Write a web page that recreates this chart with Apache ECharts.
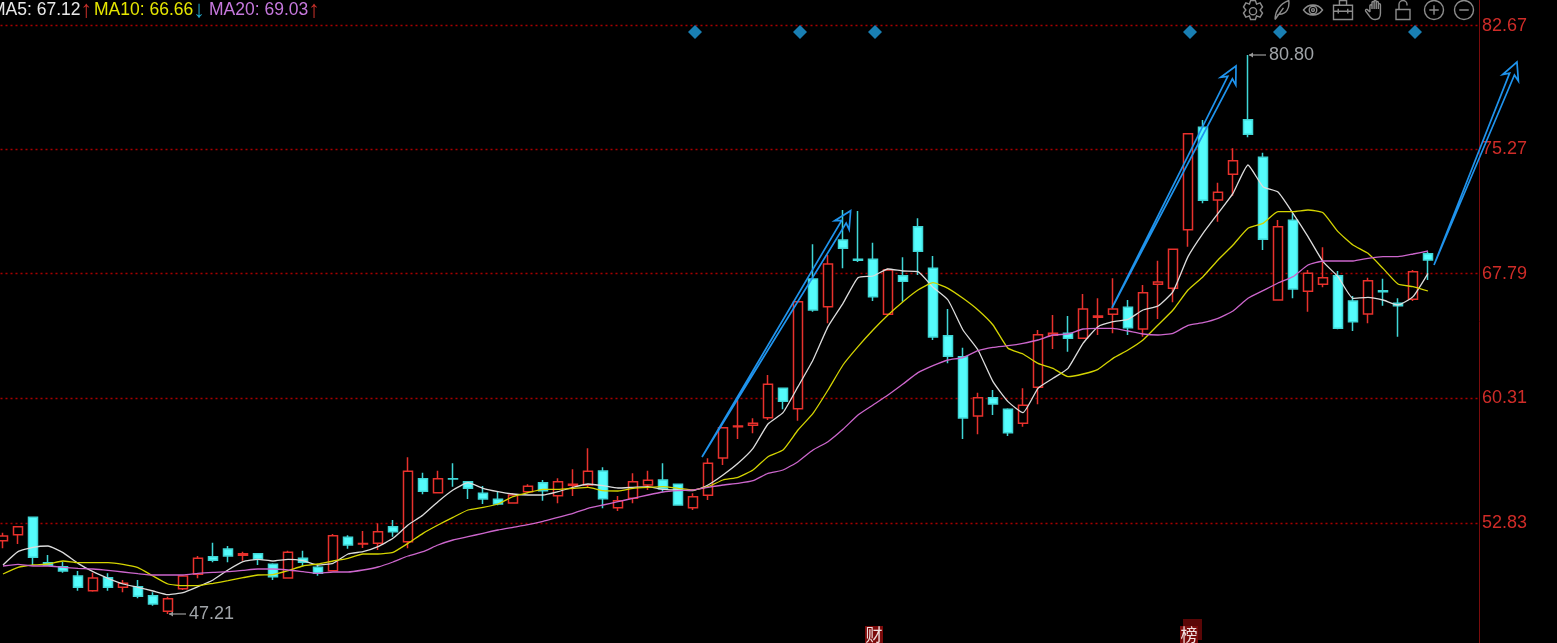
<!DOCTYPE html>
<html>
<head>
<meta charset="utf-8">
<style>html,body{margin:0;padding:0;background:#000;overflow:hidden}#c{width:1557px;height:643px}</style>
<script src="https://cdn.jsdelivr.net/npm/echarts@6/dist/echarts.min.js"></script>
</head>
<body>
<div id="c"></div>
<script>
const opens=[51.77,52.13,53.17,50.45,50.21,49.65,48.77,49.55,48.97,49.01,48.47,47.53,48.89,49.75,50.81,51.27,50.89,50.99,50.35,49.53,50.71,50.17,49.97,51.97,
51.57,51.61,52.61,51.71,55.49,54.65,55.49,55.31,54.61,54.25,54.03,54.71,55.25,54.47,55.09,55.11,55.95,53.75,54.31,55.11,55.41,55.15,53.75,
54.49,56.73,58.61,58.69,59.15,60.91,59.69,67.47,65.81,69.81,68.65,68.65,65.35,67.67,70.61,68.11,64.07,62.81,59.25,60.35,59.65,58.81,
60.97,64.09,64.21,63.91,65.17,65.35,65.77,64.47,67.15,66.91,70.43,76.57,72.21,73.75,77.03,74.77,66.21,
70.99,66.73,67.15,67.67,66.15,65.37,66.77,66.01,66.25,68.99];
const closes=[52.05,52.61,50.77,50.29,49.95,48.97,49.53,48.97,49.21,48.43,47.97,48.29,49.65,50.71,50.59,50.85,50.99,50.67,49.61,51.07,50.47,49.81,52.07,51.51,
51.60,52.31,52.31,55.93,54.73,55.49,55.47,54.91,54.27,53.97,54.51,55.03,54.77,55.31,55.15,55.93,54.29,54.17,55.31,55.39,54.89,53.91,54.41,
56.41,58.55,58.65,58.81,61.15,60.13,66.11,65.61,68.37,69.31,68.59,66.41,68.01,67.33,69.13,63.99,62.83,59.13,60.35,59.97,58.25,59.89,
64.13,64.21,63.91,65.67,65.25,65.67,64.55,66.65,67.29,69.25,76.19,72.19,72.67,74.57,76.15,69.85,70.61,
66.87,67.81,67.55,64.51,64.91,67.37,66.71,65.87,67.91,68.61];
const lows=[51.31,51.57,50.31,50.25,49.85,48.77,48.71,48.77,48.67,48.31,47.87,47.37,48.81,49.51,50.47,50.47,50.57,50.31,49.41,49.51,50.25,49.67,49.95,51.29,
51.33,51.21,52.01,51.31,54.55,54.65,55.01,54.27,53.97,53.89,54.03,54.61,54.17,54.01,54.45,54.97,53.71,53.55,54.01,54.81,54.71,53.91,53.61,
54.21,56.31,57.87,58.21,59.01,59.65,58.97,65.51,64.81,68.11,68.49,66.15,65.31,66.11,67.71,63.81,62.41,57.87,58.15,59.31,58.05,58.61,
59.95,63.27,63.11,63.91,64.11,64.21,64.11,64.01,65.07,66.07,69.41,72.01,70.91,72.47,75.97,69.21,66.21,
66.31,65.51,66.97,64.45,64.35,64.81,65.87,64.01,66.15,67.41];
const highs=[52.25,52.61,53.17,50.91,50.51,49.95,49.85,49.81,49.41,49.41,48.67,48.41,49.67,50.85,51.65,51.45,51.11,51.01,50.41,51.17,51.17,50.31,52.17,52.09,
52.35,52.81,53.01,56.77,55.85,55.97,56.41,55.31,55.05,54.71,54.61,55.15,55.41,55.51,56.05,57.31,56.17,54.45,55.81,55.97,56.41,55.15,54.61,
56.71,58.57,60.21,59.11,61.71,60.91,66.11,69.55,68.91,71.61,71.55,69.65,68.11,68.77,71.11,68.85,65.67,63.35,60.65,60.81,59.71,60.91,
64.41,65.31,65.25,66.57,66.31,67.51,66.21,67.11,68.57,69.25,76.21,77.01,73.25,75.31,80.91,75.05,71.01,
71.41,68.01,69.37,67.95,66.45,67.55,67.49,66.31,68.01,69.11];
const ma5=[50.31,51.11,51.37,51.45,51.05,50.41,49.91,49.51,49.17,48.97,48.75,48.53,48.65,49.01,49.41,50.01,50.51,50.65,50.55,50.65,50.57,50.31,50.41,50.97,
51.11,51.41,51.91,52.71,53.31,54.11,54.81,55.25,54.91,54.71,54.57,54.51,54.51,54.71,54.97,55.17,55.07,54.93,54.97,55.01,54.85,54.81,54.77,
55.11,55.71,56.41,57.31,58.77,59.45,61.01,62.61,64.61,66.01,67.55,67.65,68.07,67.95,67.91,66.97,66.21,64.41,63.21,61.31,60.11,59.45,
60.91,61.51,62.11,63.61,64.61,64.91,65.05,65.61,65.85,66.71,68.81,70.21,71.41,72.61,74.31,73.01,72.69,
71.41,70.01,68.51,67.61,66.31,66.37,66.21,65.91,66.41,67.81];
const ma10=[49.77,50.17,50.31,50.37,50.55,50.45,50.45,50.45,50.35,50.15,49.65,49.17,49.07,49.07,49.21,49.37,49.55,49.71,49.73,49.97,50.25,50.37,50.55,50.71,
50.97,50.97,51.07,51.61,52.21,52.71,53.17,53.61,53.77,53.97,54.41,54.65,54.85,54.85,54.91,54.97,54.77,54.75,54.91,54.97,55.01,54.91,54.81,
55.01,55.41,55.57,56.01,56.81,57.21,58.41,59.41,60.81,62.31,63.41,64.41,65.31,66.11,66.81,67.25,66.91,66.31,65.61,64.71,63.31,62.97,
62.41,62.11,61.61,61.77,62.05,62.71,63.21,63.81,64.71,65.61,66.81,67.61,68.61,69.51,70.51,70.81,71.51,
71.51,71.61,71.45,70.31,69.51,69.01,68.11,67.17,67.01,66.75];
const ma20=[50.25,50.35,50.25,50.25,50.17,50.11,50.07,49.99,49.89,49.79,49.71,49.71,49.71,49.81,49.87,49.91,49.99,50.07,50.07,50.01,49.91,49.81,49.89,49.89,
50.01,50.19,50.49,50.85,51.11,51.51,51.81,52.01,52.21,52.41,52.57,52.73,52.93,53.17,53.41,53.71,53.91,54.11,54.31,54.51,54.69,54.77,54.81,
54.97,55.11,55.21,55.37,55.81,56.01,56.51,57.21,57.71,58.45,59.31,59.91,60.51,61.17,61.85,62.27,62.61,62.75,63.17,63.37,63.47,63.61,
63.81,64.11,64.17,64.47,64.51,64.51,64.35,64.17,64.11,64.21,64.69,64.85,65.11,65.55,66.31,66.77,67.23,
67.61,68.31,68.55,68.55,68.55,68.71,68.81,68.81,68.97,69.15];
const tickValues=[52.83,60.31,67.79,75.27,82.67];
const diamondIdx=[46,53,58,79,85,94];
const diamondLevel=82.29;
const extremeIdx=[11,83];
const extremeVals=[47.37,80.91];
const extremeText=['47.21','80.80'];
const eventIdx=[58,79];
const eventChars=['财','榜'];
const eventLevel=46.11;
const arrowFromX=[46.6,73.93,95.4];
const arrowFromY=[56.79,65.73,68.31];
const arrowToX=[56.51,82.2,100.93];
const arrowToY=[71.57,80.25,80.49];
const maLabels=[
  ['MA5: 67.12','#e8e8e8','↑','#c8302a'],
  ['MA10: 66.66','#e6e600','↓','#21a6c8'],
  ['MA20: 69.03','#c678dd','↑','#c8302a']];
const maLabelX=[-9,94,209];
const categories=opens.map((_,i)=>String(i)).concat(['96','97','98']);

const iconPaths=[
 'M8 1h4l1 3 3-1 2 3.5-2 2.5 2 2.5-2 3.5-3-1-1 3H8l-1-3-3 1-2-3.5 2-2.5-2-2.5 2-3.5 3 1z M13 10a3 3 0 1 1-6 0a3 3 0 1 1 6 0z',
 'M4 19C4 12 8 4 17 1c1 7-2 13-9 13l-2 1 M4 19L12 8',
 'M0 10C5 3 15 3 20 10C15 17 5 17 0 10z M14 10a4 4 0 1 1-8 0a4 4 0 1 1 8 0z M11.5 10a1.5 1.5 0 1 1-3 0a1.5 1.5 0 1 1 3 0z',
 'M2 6h16v12H2z M7 6V2h6v4 M2 11h16 M6 9v4 M14 9v4',
 'M5 12V6a1 1 0 0 1 2 0v3 M7 8V3a1 1 0 0 1 2 0v6 M9 8V2a1 1 0 0 1 2 0v7 M11 8V3a1 1 0 0 1 2 0v6 M13 9V5a1 1 0 0 1 2 0v8c0 4-2 6-5 6s-4-1-6-4l-3-4a1 1 0 0 1 2-1l2 2',
 'M3 9h14v10H3z M6 9V4a4 4 0 0 1 8 0v1',
 'M20 10a10 10 0 1 1-20 0a10 10 0 1 1 20 0z M10 5v10 M5 10h10',
 'M20 10a10 10 0 1 1-20 0a10 10 0 1 1 20 0z M5 10h10'];
const iconCenters=[1253,1282,1313,1343,1373,1403,1434,1464];

const font='17.5px "Liberation Sans", Arial, sans-serif';
const arrowFont='bold 24px "Liberation Sans", "DejaVu Sans", sans-serif';
const graphics=[];
maLabels.forEach((m,i)=>{
  graphics.push({type:'text',x:maLabelX[i],y:-2,z:50,silent:true,style:{
    text:'{a|'+m[0]+'}{b|'+m[2]+'}',font:font,
    rich:{a:{fill:m[1],font:font},b:{fill:m[3],font:arrowFont}}}});
});

const candleData=opens.map((o,i)=>[o,closes[i],lows[i],highs[i]]);
const lineS=(name,data,color)=>({type:'line',name,data,symbol:'none',smooth:0.15,z:5,
  lineStyle:{color,width:1.3},silent:true});

const option={
  animation:false,backgroundColor:'#000',
  grid:{left:-4.5,top:0,width:1485,height:643,outerBoundsMode:'none',containLabel:false},
  graphic:graphics,
  xAxis:[
    {type:'category',data:categories,boundaryGap:true,show:false},
    {type:'value',min:-0.5,max:98.5,show:false}
  ],
  yAxis:{type:'value',position:'right',offset:-1.5,min:45.63,max:84.21,scale:true,
    axisLine:{show:true,onZero:false,lineStyle:{color:'#7a0c0c',width:1}},
    axisTick:{show:false,customValues:tickValues},
    axisLabel:{show:true,margin:3,color:'#cf2c28',fontSize:18,fontFamily:'"Liberation Sans", Arial, sans-serif',
      customValues:tickValues,formatter:v=>v.toFixed(2),showMinLabel:true,showMaxLabel:true},
    splitLine:{show:true,lineStyle:{color:'#a80000',width:1.4,type:[2,3]}}
  },
  series:[
    {type:'candlestick',data:candleData,barWidth:10,z:3,silent:true,
      itemStyle:{color:'#000',color0:'#54fcfc',borderColor:'#e8312c',borderColor0:'#3fd6d6',borderWidth:1.5}},
    lineS('MA5',ma5,'#dcdcdc'),
    lineS('MA10',ma10,'#d4d400'),
    lineS('MA20',ma20,'#cc66cc'),
    {type:'scatter',data:diamondIdx.map(i=>[String(i),diamondLevel]),symbol:'diamond',symbolSize:14,symbolOffset:[2,0],
      itemStyle:{color:'#1f9fe0'},z:6,silent:true},
    {type:'custom',xAxisIndex:1,z:8,silent:true,clip:false,
      data:arrowFromX.map((x,i)=>[x,arrowFromY[i],arrowToX[i],arrowToY[i]]),
      renderItem(params,api){
        const a=api.coord([api.value(0),api.value(1)]),b=api.coord([api.value(2),api.value(3)]);
        const dx=b[0]-a[0],dy=b[1]-a[1],L=Math.hypot(dx,dy),ux=dx/L,uy=dy/L,nx=-uy,ny=ux;
        const P=(al,pe)=>[b[0]+ux*al+nx*pe,b[1]+uy*al+ny*pe];
        return {type:'polygon',shape:{points:[a,P(-13,-2.6),P(-17,-8.5),b,P(-17,8.5),P(-13,2.6)]},
          style:{fill:'none',stroke:'#1f93ec',lineWidth:1.7}};
      }},
    {type:'custom',xAxisIndex:1,z:9,silent:true,clip:false,
      data:extremeIdx.map((x,i)=>[x,extremeVals[i]]),
      renderItem(params,api){
        const p=api.coord([api.value(0),api.value(1)]);
        return {type:'group',children:[
          {type:'line',shape:{x1:p[0]+1,y1:p[1],x2:p[0]+18,y2:p[1]},style:{stroke:'#9a9a9a',lineWidth:1.2}},
          {type:'polygon',shape:{points:[[p[0]+1,p[1]],[p[0]+5,p[1]-2.5],[p[0]+5,p[1]+2.5]]},style:{fill:'#9a9a9a'}},
          {type:'text',x:p[0]+21,y:p[1],style:{text:extremeText[params.dataIndex],fill:'#a0a4a8',
            font:'18px "Liberation Sans", Arial, sans-serif',textVerticalAlign:'middle'}}
        ]};
      }},
    {type:'custom',xAxisIndex:1,z:9,silent:true,clip:false,
      data:eventIdx.map(x=>[x,eventLevel]),
      renderItem(params,api){
        const p=api.coord([api.value(0),api.value(1)]);
        const kids=[];
        if(params.dataIndex===1){kids.push({type:'rect',shape:{x:p[0]-5,y:p[1]-16,width:19,height:21},style:{fill:'#5a0606'}});}
        kids.push({type:'rect',shape:{x:p[0]-8,y:p[1]-9,width:18,height:18},style:{fill:'#7a0a0a'}});
        kids.push({type:'text',x:p[0]+1,y:p[1],style:{text:eventChars[params.dataIndex],fill:'#f0e0e0',
          font:'17px "Noto Sans CJK SC", sans-serif',textAlign:'center',textVerticalAlign:'middle'}});
        return {type:'group',children:kids};
      }},
    {type:'custom',xAxisIndex:1,z:20,silent:true,clip:false,
      data:iconPaths.map((_,i)=>[i,70]),
      renderItem(params){
        const i=params.dataIndex;
        return {type:'path',shape:{pathData:iconPaths[i],layout:'center',x:iconCenters[i]-9.5,y:0.5,width:19,height:19},
          style:{fill:'none',stroke:'#8c8c8c',lineWidth:1.4}};
      }}
  ]
};
echarts.init(document.getElementById('c'),null,{renderer:'canvas'}).setOption(option);
</script>
</body>
</html>
